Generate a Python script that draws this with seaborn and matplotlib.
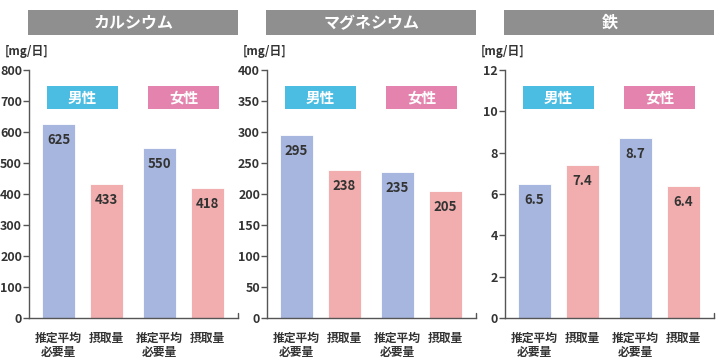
"""Nutrient intake vs. estimated average requirement, three panels."""

import numpy as np
import pandas as pd
import seaborn as sns
import matplotlib.pyplot as plt
from matplotlib.patches import Rectangle
import matplotlib.transforms as mtransforms

# Data
nutrients = ["カルシウム", "マグネシウム", "鉄"]
sexes = ["男性", "女性"]
kinds = ["推定平均必要量", "摂取量"]
kind_labels = ["推定平均\n必要量", "摂取量"]
calcium = [625, 433, 550, 418]
magnesium = [295, 238, 235, 205]
iron = [6.5, 7.4, 8.7, 6.4]
y_max = [800, 400, 12]
y_step = [100, 50, 2]
value_fmt = ["{:.0f}", "{:.0f}", "{:.1f}"]
unit = "[mg/日]"

BLUE = "#a6b6de"
PINK = "#f2aeae"
SEX_COLORS = {"男性": "#4bbde3", "女性": "#e483ad"}
GRAY = "#8f8f8f"
TEXT = "#333333"

sns.set_theme(style="white")
plt.rcParams["font.family"] = ["Noto Sans CJK JP", "DejaVu Sans"]

fig = plt.figure(figsize=(7.2, 3.6), dpi=100)
lefts = [29, 267, 505]
axes = [fig.add_axes([l / 720, 42 / 360, 209 / 720, 248 / 360]) for l in lefts]

for ax, name, vals, ymax, step, fmt in zip(
    axes, nutrients, [calcium, magnesium, iron], y_max, y_step, value_fmt
):
    df = pd.DataFrame({
        "sex": np.repeat(sexes, 2),
        "kind": kinds * 2,
        "value": vals,
    })
    sns.barplot(
        data=df, x="sex", y="value", hue="kind", order=sexes, hue_order=kinds,
        palette=[BLUE, PINK], saturation=1, width=0.95, gap=0.31, ax=ax,
        legend=False, edgecolor="white", linewidth=0.6,
    )
    bars = sorted(ax.patches, key=lambda p: p.get_x())
    centers = [b.get_x() + b.get_width() / 2 for b in bars]

    ax.set_ylim(0, ymax)
    ax.set_yticks(np.arange(0, ymax + step / 2, step))
    left = centers[0] - 29.5 / 101
    ax.set_xlim(left, left + 209 / 101)
    ax.set_xticks(centers)
    ax.set_xticklabels(kind_labels * 2, fontsize=8.5, fontweight="bold",
                       color=TEXT, linespacing=1.15)
    ax.set_xlabel("")
    ax.set_ylabel("")

    for s in ["top", "right"]:
        ax.spines[s].set_visible(False)
    for s in ["left", "bottom"]:
        ax.spines[s].set_color("#555555")
        ax.spines[s].set_linewidth(1.0)
    ax.tick_params(axis="y", left=True, length=4, width=1, color="#555555",
                   labelsize=9, labelcolor=TEXT, pad=1)
    ax.tick_params(axis="x", bottom=False, pad=4)
    for lab in ax.get_yticklabels():
        lab.set_fontweight("bold")
    # small end mark at right of x axis
    ax.plot([1, 1], [0, 0.02], transform=ax.transAxes, color="#555555",
            lw=1, clip_on=False)

    # value labels inside bars
    for b, v in zip(bars, vals):
        y_off = mtransforms.offset_copy(ax.transData, fig=fig, y=-16, units="dots")
        ax.text(b.get_x() + b.get_width() / 2, b.get_height(), fmt.format(v),
                transform=y_off, ha="center", va="center", fontsize=9.5,
                color=TEXT, fontweight="bold")

    # sex header boxes
    blend = mtransforms.blended_transform_factory(ax.transData, ax.transAxes)
    for gi, sex in enumerate(sexes):
        ax.add_patch(Rectangle((gi - 0.35, 0.843), 0.70, 0.092, transform=blend,
                               facecolor=SEX_COLORS[sex], edgecolor="none",
                               clip_on=False))
        ax.text(gi, 0.889, sex, transform=blend, ha="center", va="center",
                color="white", fontsize=10.5, fontweight="bold")

    # panel title bar
    ax.add_patch(Rectangle((-1 / 209, 1.141), 1.0 + 1 / 209, 0.101,
                           transform=ax.transAxes, facecolor=GRAY,
                           edgecolor="none", clip_on=False))
    ax.text(0.5, 1.19, name, transform=ax.transAxes, ha="center", va="center",
            color="white", fontsize=11.5, fontweight="bold")

    # unit label
    ax.text(-0.115, 1.073, unit, transform=ax.transAxes, ha="left",
            va="center", fontsize=8.5, color=TEXT, fontweight="bold")

fig.savefig("out.png", dpi=100)
